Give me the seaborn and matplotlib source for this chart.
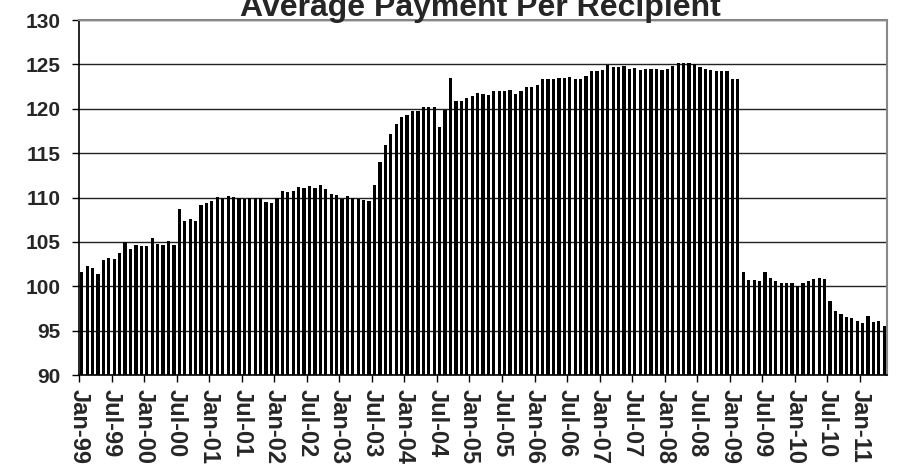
import seaborn as sns
import pandas as pd
import matplotlib.pyplot as plt

# average payment per recipient, monthly Jan-99 .. May-11
pay_1999 = [101.65, 102.3, 102.1, 101.4, 103.0, 103.2, 103.1, 103.8, 105.0, 104.25, 104.7, 104.55]
pay_2000 = [104.5, 105.4, 104.8, 104.7, 105.15, 104.6, 108.75, 107.3, 107.6, 107.3, 109.1, 109.4]
pay_2001 = [109.65, 110.1, 109.9, 110.2, 110.1, 109.9, 109.8, 109.9, 110.0, 110.0, 109.5, 109.4]
pay_2002 = [110.0, 110.7, 110.6, 110.7, 111.15, 111.05, 111.3, 111.05, 111.4, 110.95, 110.4, 110.25]
pay_2003 = [109.8, 110.15, 109.9, 109.8, 109.7, 109.6, 111.4, 114.0, 115.9, 117.2, 118.25, 119.1]
pay_2004 = [119.25, 119.8, 119.7, 120.15, 120.25, 120.25, 118.0, 119.9, 123.5, 120.9, 120.9, 121.25]
pay_2005 = [121.4, 121.8, 121.7, 121.6, 122.05, 122.05, 121.95, 122.15, 121.7, 122.05, 122.5, 122.4]
pay_2006 = [122.7, 123.4, 123.4, 123.4, 123.5, 123.5, 123.6, 123.3, 123.4, 123.7, 124.2, 124.2]
pay_2007 = [124.4, 124.95, 124.75, 124.75, 124.85, 124.5, 124.6, 124.4, 124.5, 124.5, 124.5, 124.4]
pay_2008 = [124.5, 124.85, 125.2, 125.2, 125.2, 125.05, 124.75, 124.5, 124.4, 124.3, 124.3, 124.2]
pay_2009 = [123.4, 123.3, 101.6, 100.7, 100.7, 100.6, 101.6, 100.95, 100.6, 100.4, 100.4, 100.4]
pay_2010 = [100.05, 100.4, 100.6, 100.85, 100.95, 100.85, 98.35, 97.2, 96.85, 96.5, 96.4, 96.1]
pay_2011 = [95.85, 96.65, 95.95, 96.1, 95.5]

payments = (pay_1999 + pay_2000 + pay_2001 + pay_2002 + pay_2003 + pay_2004 + pay_2005
            + pay_2006 + pay_2007 + pay_2008 + pay_2009 + pay_2010 + pay_2011)
months = pd.date_range("1999-01-01", periods=len(payments), freq="MS")

tick_labels = ["Jan-99", "Jul-99", "Jan-00", "Jul-00", "Jan-01", "Jul-01", "Jan-02", "Jul-02",
               "Jan-03", "Jul-03", "Jan-04", "Jul-04", "Jan-05", "Jul-05", "Jan-06", "Jul-06",
               "Jan-07", "Jul-07", "Jan-08", "Jul-08", "Jan-09", "Jul-09", "Jan-10", "Jul-10",
               "Jan-11"]

df = pd.DataFrame({"month": months.strftime("%b-%y"), "payment": payments})

sns.set_style("white")
plt.rcParams["font.family"] = ["Liberation Sans", "DejaVu Sans"]

fig = plt.figure(figsize=(8.99, 4.69), dpi=100)
ax = fig.add_axes([79 / 899, 1 - 375 / 469, 808 / 899, 355 / 469])

sns.barplot(data=df, x="month", y="payment", color="black", saturation=1,
            width=0.6, linewidth=0, ax=ax)
for bar in ax.patches:
    bar.set_antialiased(False)
    bar.set_zorder(3)

ax.set_xlim(-0.5, len(payments) - 0.5)
ax.set_ylim(90, 130)
ax.set_yticks(range(90, 131, 5))
ax.set_yticklabels([str(v) for v in range(90, 131, 5)], fontsize=15, fontweight="bold")
ax.set_xticks([i * 6 - 0.5 for i in range(len(tick_labels))])
ax.set_xticklabels(tick_labels, rotation=-90, fontsize=17, fontweight="bold", va="top")
ax.set_xlabel("")
ax.set_ylabel("")

ax.yaxis.grid(True, color="#222222", linewidth=1)
ax.set_axisbelow(True)
ax.tick_params(axis="both", length=5, width=1, color="black", direction="out",
               bottom=True, left=True)
ax.tick_params(axis="x", pad=5)
ax.tick_params(axis="y", pad=8)

for side in ["left", "bottom"]:
    ax.spines[side].set_color("black")
    ax.spines[side].set_linewidth(1.2)
for side in ["top", "right"]:
    ax.spines[side].set_color("#888888")
    ax.spines[side].set_linewidth(1.5)

fig.text(480 / 899, 1 - 16 / 469, "Average Payment Per Recipient", ha="center",
         va="baseline", fontsize=23, fontweight="bold")

fig.savefig("out.png", dpi=100)
